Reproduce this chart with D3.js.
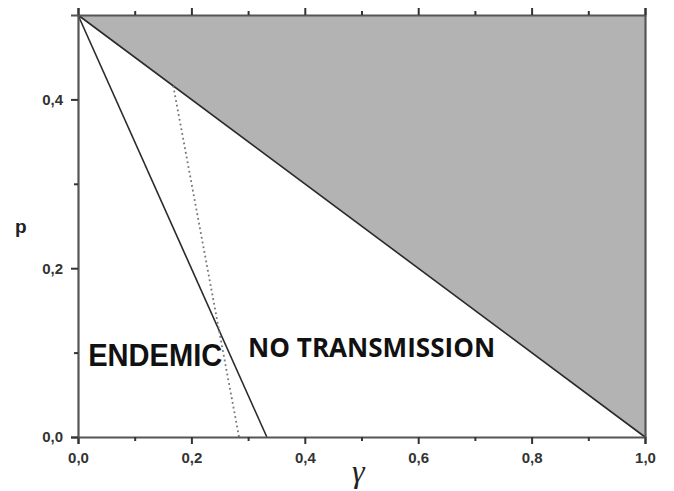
<!DOCTYPE html>
<html><head><meta charset="utf-8">
<script src="https://cdn.jsdelivr.net/npm/d3@7"></script>
<style>body{margin:0;background:#fff}svg{display:block}</style>
</head><body>
<svg id="c" width="674" height="491"></svg>
<script>
// Data
const xTicks = [0, 0.2, 0.4, 0.6, 0.8, 1.0];
const xMinor = [0.1, 0.3, 0.5, 0.7, 0.9];
const yTicks = [0, 0.2, 0.4];
const yMinor = [0.1, 0.3];
const shadedRegion = [[0, 0.5], [1, 0.5], [1, 0]];
const boundaryLine = [[0, 0.5], [1, 0]];
const solidLine = [[0, 0.5], [0.333, 0]];
const dottedLine = [[0.168, 0.416], [0.284, 0]];
const regionLabels = [
  {text: "ENDEMIC", g: 0.018, p: 0.084, len: 134, size: 31, font: "'Liberation Sans', Arial, sans-serif"},
  {text: "NO TRANSMISSION", g: 0.3, p: 0.095, len: 247, size: 27, font: "'Open Sans', sans-serif"}
];

const svg = d3.select("#c");
const x = d3.scaleLinear().domain([0, 1]).range([78, 645]);
const y = d3.scaleLinear().domain([0, 0.5]).range([437, 15]);
const fmt = d => d3.format(".1f")(d).replace(".", ",");
const line = d3.line().x(d => x(d[0])).y(d => y(d[1]));

svg.append("path").attr("d", line(shadedRegion) + "Z").attr("fill", "#b3b3b3");
svg.append("path").attr("d", line(boundaryLine)).attr("stroke", "#2a2a2a").attr("stroke-width", 1.6).attr("fill", "none");
svg.append("path").attr("d", line(solidLine)).attr("stroke", "#2a2a2a").attr("stroke-width", 1.6).attr("fill", "none");
svg.append("path").attr("d", line(dottedLine)).attr("stroke", "#777").attr("stroke-width", 1.8)
  .attr("stroke-dasharray", "1.8,3").attr("fill", "none");

const axColor = "#555";
// bottom axis
svg.append("g").attr("transform", `translate(0,${y(0)})`)
  .call(d3.axisBottom(x).tickValues(xTicks).tickFormat(fmt).tickSize(7).tickPadding(8));
svg.append("g").attr("transform", `translate(0,${y(0)})`)
  .call(d3.axisBottom(x).tickValues(xMinor).tickFormat("").tickSize(4)).select(".domain").remove();
// top axis
svg.append("g").attr("transform", `translate(0,${y(0.5)})`)
  .call(d3.axisTop(x).tickValues(xTicks).tickFormat("").tickSize(7));
svg.append("g").attr("transform", `translate(0,${y(0.5)})`)
  .call(d3.axisTop(x).tickValues(xMinor).tickFormat("").tickSize(4)).select(".domain").remove();
// left axis
svg.append("g").attr("transform", `translate(${x(0)},0)`)
  .call(d3.axisLeft(y).tickValues(yTicks).tickFormat(fmt).tickSize(7).tickPadding(8));
svg.append("g").attr("transform", `translate(${x(0)},0)`)
  .call(d3.axisLeft(y).tickValues(yMinor).tickFormat("").tickSize(4)).select(".domain").remove();
// right axis
svg.append("g").attr("transform", `translate(${x(1)},0)`)
  .call(d3.axisRight(y).tickValues([]).tickSizeOuter(0));

svg.selectAll(".domain").attr("stroke", axColor).attr("stroke-width", 2.2);
svg.selectAll(".tick line").attr("stroke", "#333").attr("stroke-width", 2);
svg.selectAll(".tick text").attr("font-family", "'Liberation Sans', Arial, sans-serif")
  .attr("font-size", 15).attr("font-weight", "bold").attr("fill", "#333");

regionLabels.forEach(l => {
  svg.append("text").attr("x", x(l.g)).attr("y", y(l.p)).text(l.text)
    .attr("font-family", l.font).attr("font-weight", "bold").attr("font-size", l.size)
    .attr("textLength", l.len).attr("lengthAdjust", "spacingAndGlyphs").attr("fill", "#111");
});

svg.append("text").attr("x", 15).attr("y", 233).text("p")
  .attr("font-family", "'Liberation Sans', Arial, sans-serif").attr("font-size", 19)
  .attr("font-weight", "bold").attr("fill", "#222");
svg.append("text").attr("x", 352).attr("y", 482).text("γ")
  .attr("font-family", "'Liberation Serif', 'DejaVu Serif', serif").attr("font-style", "italic")
  .attr("font-size", 32).attr("fill", "#222");
</script>
</body></html>
